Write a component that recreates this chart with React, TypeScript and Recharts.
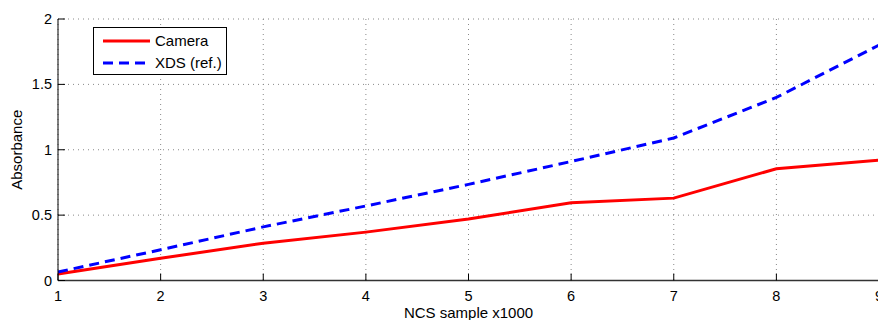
import React from 'react'
import { LineChart, Line, XAxis, YAxis, CartesianGrid } from 'recharts'

const samples = [1, 2, 3, 4, 5, 6, 7, 8, 9]
const camera = [0.05, 0.17, 0.285, 0.37, 0.47, 0.595, 0.63, 0.855, 0.92]
const xds = [0.065, 0.235, 0.41, 0.57, 0.735, 0.91, 1.09, 1.4, 1.8]
const xTicks = [1, 2, 3, 4, 5, 6, 7, 8, 9]
const yTicks = [0, 0.5, 1, 1.5, 2]

const data = samples.map((s, i) => ({ sample: s, camera: camera[i], xds: xds[i] }))

const FONT = 'Liberation Sans, Arial, Helvetica, sans-serif'

const YTick = (props: any) => {
    const { x, y, payload } = props
    return (
        <g>
            <line x1={x + 6} x2={x + 13} y1={y} y2={y} stroke="#000" strokeWidth={1} />
            <text x={x} y={y} dy={5} textAnchor="end" fontSize={14.5} fontFamily={FONT} fill="#000">
                {payload.value}
            </text>
        </g>
    )
}

const XTick = (props: any) => {
    const { x, y, payload } = props
    return (
        <g>
            <line x1={x} x2={x} y1={y - 6} y2={y - 13} stroke="#000" strokeWidth={1} />
            <text x={x} y={y} dy={14} textAnchor="middle" fontSize={14.5} fontFamily={FONT} fill="#000">
                {payload.value}
            </text>
        </g>
    )
}

const LegendBox = () => (
    <div style={{
        position: 'absolute', left: 93, top: 27,
        border: '1px solid #000', background: '#fff', width: 132, height: 46,
        fontFamily: FONT, fontSize: 15, color: '#000'
    }}>
        <div style={{ display: 'flex', alignItems: 'center', height: 23, marginTop: 1 }}>
            <svg width={61} height={10}><line x1={9} x2={56} y1={5} y2={5} stroke="#ff0000" strokeWidth={3} /></svg>
            <span>Camera</span>
        </div>
        <div style={{ display: 'flex', alignItems: 'center', height: 21 }}>
            <svg width={61} height={10}><line x1={9} x2={56} y1={5} y2={5} stroke="#0000ff" strokeWidth={3} strokeDasharray="10 6" /></svg>
            <span>XDS (ref.)</span>
        </div>
    </div>
)

export default function App() {
    return (
        <div style={{ position: 'absolute', left: 0, top: 0, width: 878, height: 320, overflow: 'hidden', background: '#fff' }}>
            <LineChart width={890} height={320} data={data} margin={{ top: 19, right: 11, left: 0, bottom: 0 }}>
                <CartesianGrid stroke="#888" strokeDasharray="1 4" />
                <XAxis
                    dataKey="sample"
                    type="number"
                    domain={[1, 9]}
                    ticks={xTicks}
                    height={39.5}
                    tickSize={0}
                    tickMargin={6}
                    tickLine={false}
                    axisLine={{ stroke: '#333', strokeWidth: 1.5 }}
                    tick={<XTick />}
                    label={{ value: 'NCS sample x1000', position: 'insideBottom', offset: 2, fontSize: 15, fontFamily: FONT, fill: '#000' }}
                />
                <YAxis
                    type="number"
                    domain={[0, 2]}
                    ticks={yTicks}
                    width={58}
                    tickSize={0}
                    tickMargin={6}
                    tickLine={false}
                    axisLine={{ stroke: '#000', strokeWidth: 1 }}
                    tick={<YTick />}
                    label={({ viewBox }: any) => (
                        <text
                            x={viewBox.x + 22}
                            y={viewBox.y + viewBox.height / 2}
                            transform={`rotate(-90, ${viewBox.x + 22}, ${viewBox.y + viewBox.height / 2})`}
                            textAnchor="middle"
                            fontSize={15}
                            fontFamily={FONT}
                            fill="#000"
                        >
                            Absorbance
                        </text>
                    )}
                />
                <Line dataKey="camera" stroke="#ff0000" strokeWidth={3} dot={false} isAnimationActive={false} />
                <Line dataKey="xds" stroke="#0000ff" strokeWidth={3} strokeDasharray="10 6" dot={false} isAnimationActive={false} />
            </LineChart>
            <LegendBox />
        </div>
    )
}
